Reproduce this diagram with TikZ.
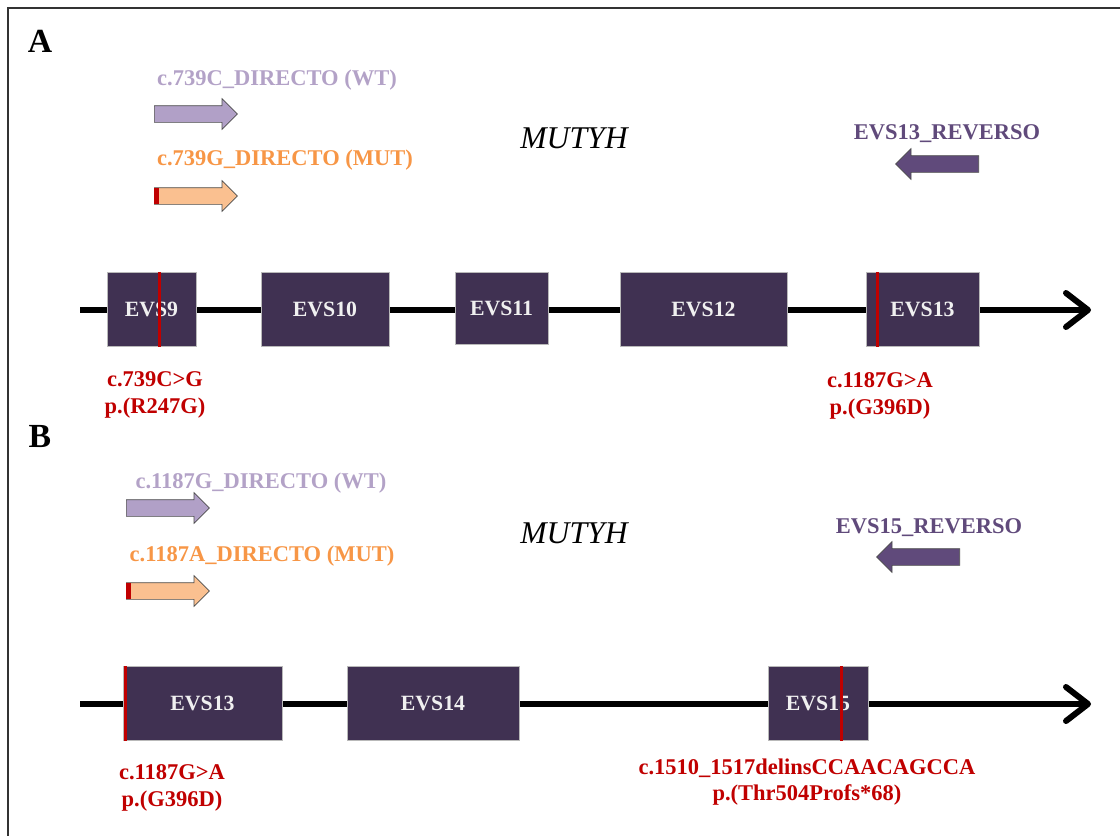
\documentclass[tikz,border=0pt]{standalone}
\usepackage{fontspec}
\setmainfont{Liberation Serif}
\usetikzlibrary{positioning,shapes.arrows,arrows.meta}

\definecolor{exonfill}{HTML}{403152}
\definecolor{wtcol}{HTML}{B3A2C7}
\definecolor{wtfill}{HTML}{B1A0C7}
\definecolor{mutcol}{HTML}{F79646}
\definecolor{mutfill}{HTML}{FAC090}
\definecolor{revcol}{HTML}{604A7B}
\definecolor{varred}{HTML}{C00000}

% one unit of the drawing grid
\newcommand{\pxl}{0.025cm}

\tikzset{
  exon/.style={draw=gray!55, fill=exonfill, text=white!94!black,
    font=\bfseries\fontsize{15.5}{18}\selectfont,
    minimum height=74*\pxl, inner sep=0pt},
  primer/.style={single arrow, draw=black!70, line width=0.5pt, anchor=tail,
    inner xsep=0pt, inner ysep=8*\pxl, minimum height=83*\pxl,
    single arrow head extend=7*\pxl, single arrow tip angle=90},
  lbl/.style={font=\bfseries\fontsize{16}{19}\selectfont},
  varlbl/.style={lbl, text=varred, align=center},
  mutline/.style={varred, line width=3*\pxl},
  mutmark/.style={fill=varred},
  gene/.style={line width=6*\pxl,
    -{Straight Barb[length=0.55cm,width=0.85cm,round]}},
  panel/.style={font=\bfseries\fontsize{24}{27}\selectfont},
  genename/.style={font=\itshape\fontsize{22.5}{26}\selectfont}
}

\begin{document}
\begin{tikzpicture}[x=\pxl, y=-\pxl]
    \useasboundingbox (0,0) rectangle (1120,836);
    % Frame
    \draw[black!80, line width=1pt] (8,836) -- (8,8) -- (1120,8);

    % ---------- A ----------
    \node[panel] (pA) at (40,41) {A};
    \node[genename] (geneA) at (574,138) {MUTYH};

    % Primers
    \node[lbl, text=wtcol] (wtlblA) at (277,80) {c.739C\_DIRECTO (WT)};
    \node[primer, fill=wtfill] (wtA) at (154,114) {};
    \node[lbl, text=mutcol] (mutlblA) at (285,160) {c.739G\_DIRECTO (MUT)};
    \node[primer, fill=mutfill] (mutA) at (154,196) {};
    \fill[mutmark] (154,188) rectangle (158.5,204);
    \node[lbl, text=revcol] (revlblA) at (947,134) {EVS13\_REVERSO};
    \node[primer, fill=revcol, shape border rotate=180] (revA) at (979,164) {};

    % Gene line and exons
    \coordinate (startA) at (80,310);
    \coordinate (endA) at (1091,310);
    \draw[gene] (startA) -- (endA);
    \node[exon, minimum width=89*\pxl] (ex9A) at (151.5,309) {EVS9};
    \node[exon, minimum width=128*\pxl] (ex10A) at (325,309) {EVS10};
    \node[exon, minimum width=93*\pxl, minimum height=72*\pxl] (ex11A) at (501.5,308) {EVS11};
    \node[exon, minimum width=167*\pxl] (ex12A) at (703.5,309) {EVS12};
    \node[exon, minimum width=113*\pxl] (ex13A) at (922.5,309) {EVS13};

    % Variants
    \draw[mutline] (159,272) -- (159,347);
    \draw[mutline] (877,272) -- (877,347);
    \node[varlbl] (varA1) at (155,395) {c.739C>G\\p.(R247G)};
    \node[varlbl] (varA2) at (880,396) {c.1187G>A\\p.(G396D)};

    % ---------- B ----------
    \node[panel] (pB) at (40,436) {B};
    \node[genename] (geneB) at (574,533) {MUTYH};

    % Primers
    \node[lbl, text=wtcol] (wtlblB) at (261,483) {c.1187G\_DIRECTO (WT)};
    \node[primer, fill=wtfill] (wtB) at (126,508) {};
    \node[lbl, text=mutcol] (mutlblB) at (262,556) {c.1187A\_DIRECTO (MUT)};
    \node[primer, fill=mutfill] (mutB) at (126,591) {};
    \fill[mutmark] (126,583) rectangle (130.5,599);
    \node[lbl, text=revcol] (revlblB) at (929,528) {EVS15\_REVERSO};
    \node[primer, fill=revcol, shape border rotate=180] (revB) at (960,557) {};

    % Gene line and exons
    \coordinate (startB) at (80,704);
    \coordinate (endB) at (1091,704);
    \draw[gene] (startB) -- (endB);
    \node[exon, minimum width=159*\pxl] (ex13B) at (202.5,703) {EVS13};
    \node[exon, minimum width=172*\pxl] (ex14B) at (433,703) {EVS14};
    \node[exon, minimum width=100*\pxl] (ex15B) at (818,703) {EVS15};

    % Variants
    \draw[mutline] (125,666) -- (125,741);
    \draw[mutline] (841,666) -- (841,741);
    \node[varlbl] (varB1) at (172,788) {c.1187G>A\\p.(G396D)};
    \node[varlbl] (varB2) at (807,782) {c.1510\_1517delinsCCAACAGCCA\\p.(Thr504Profs*68)};
\end{tikzpicture}
\end{document}
